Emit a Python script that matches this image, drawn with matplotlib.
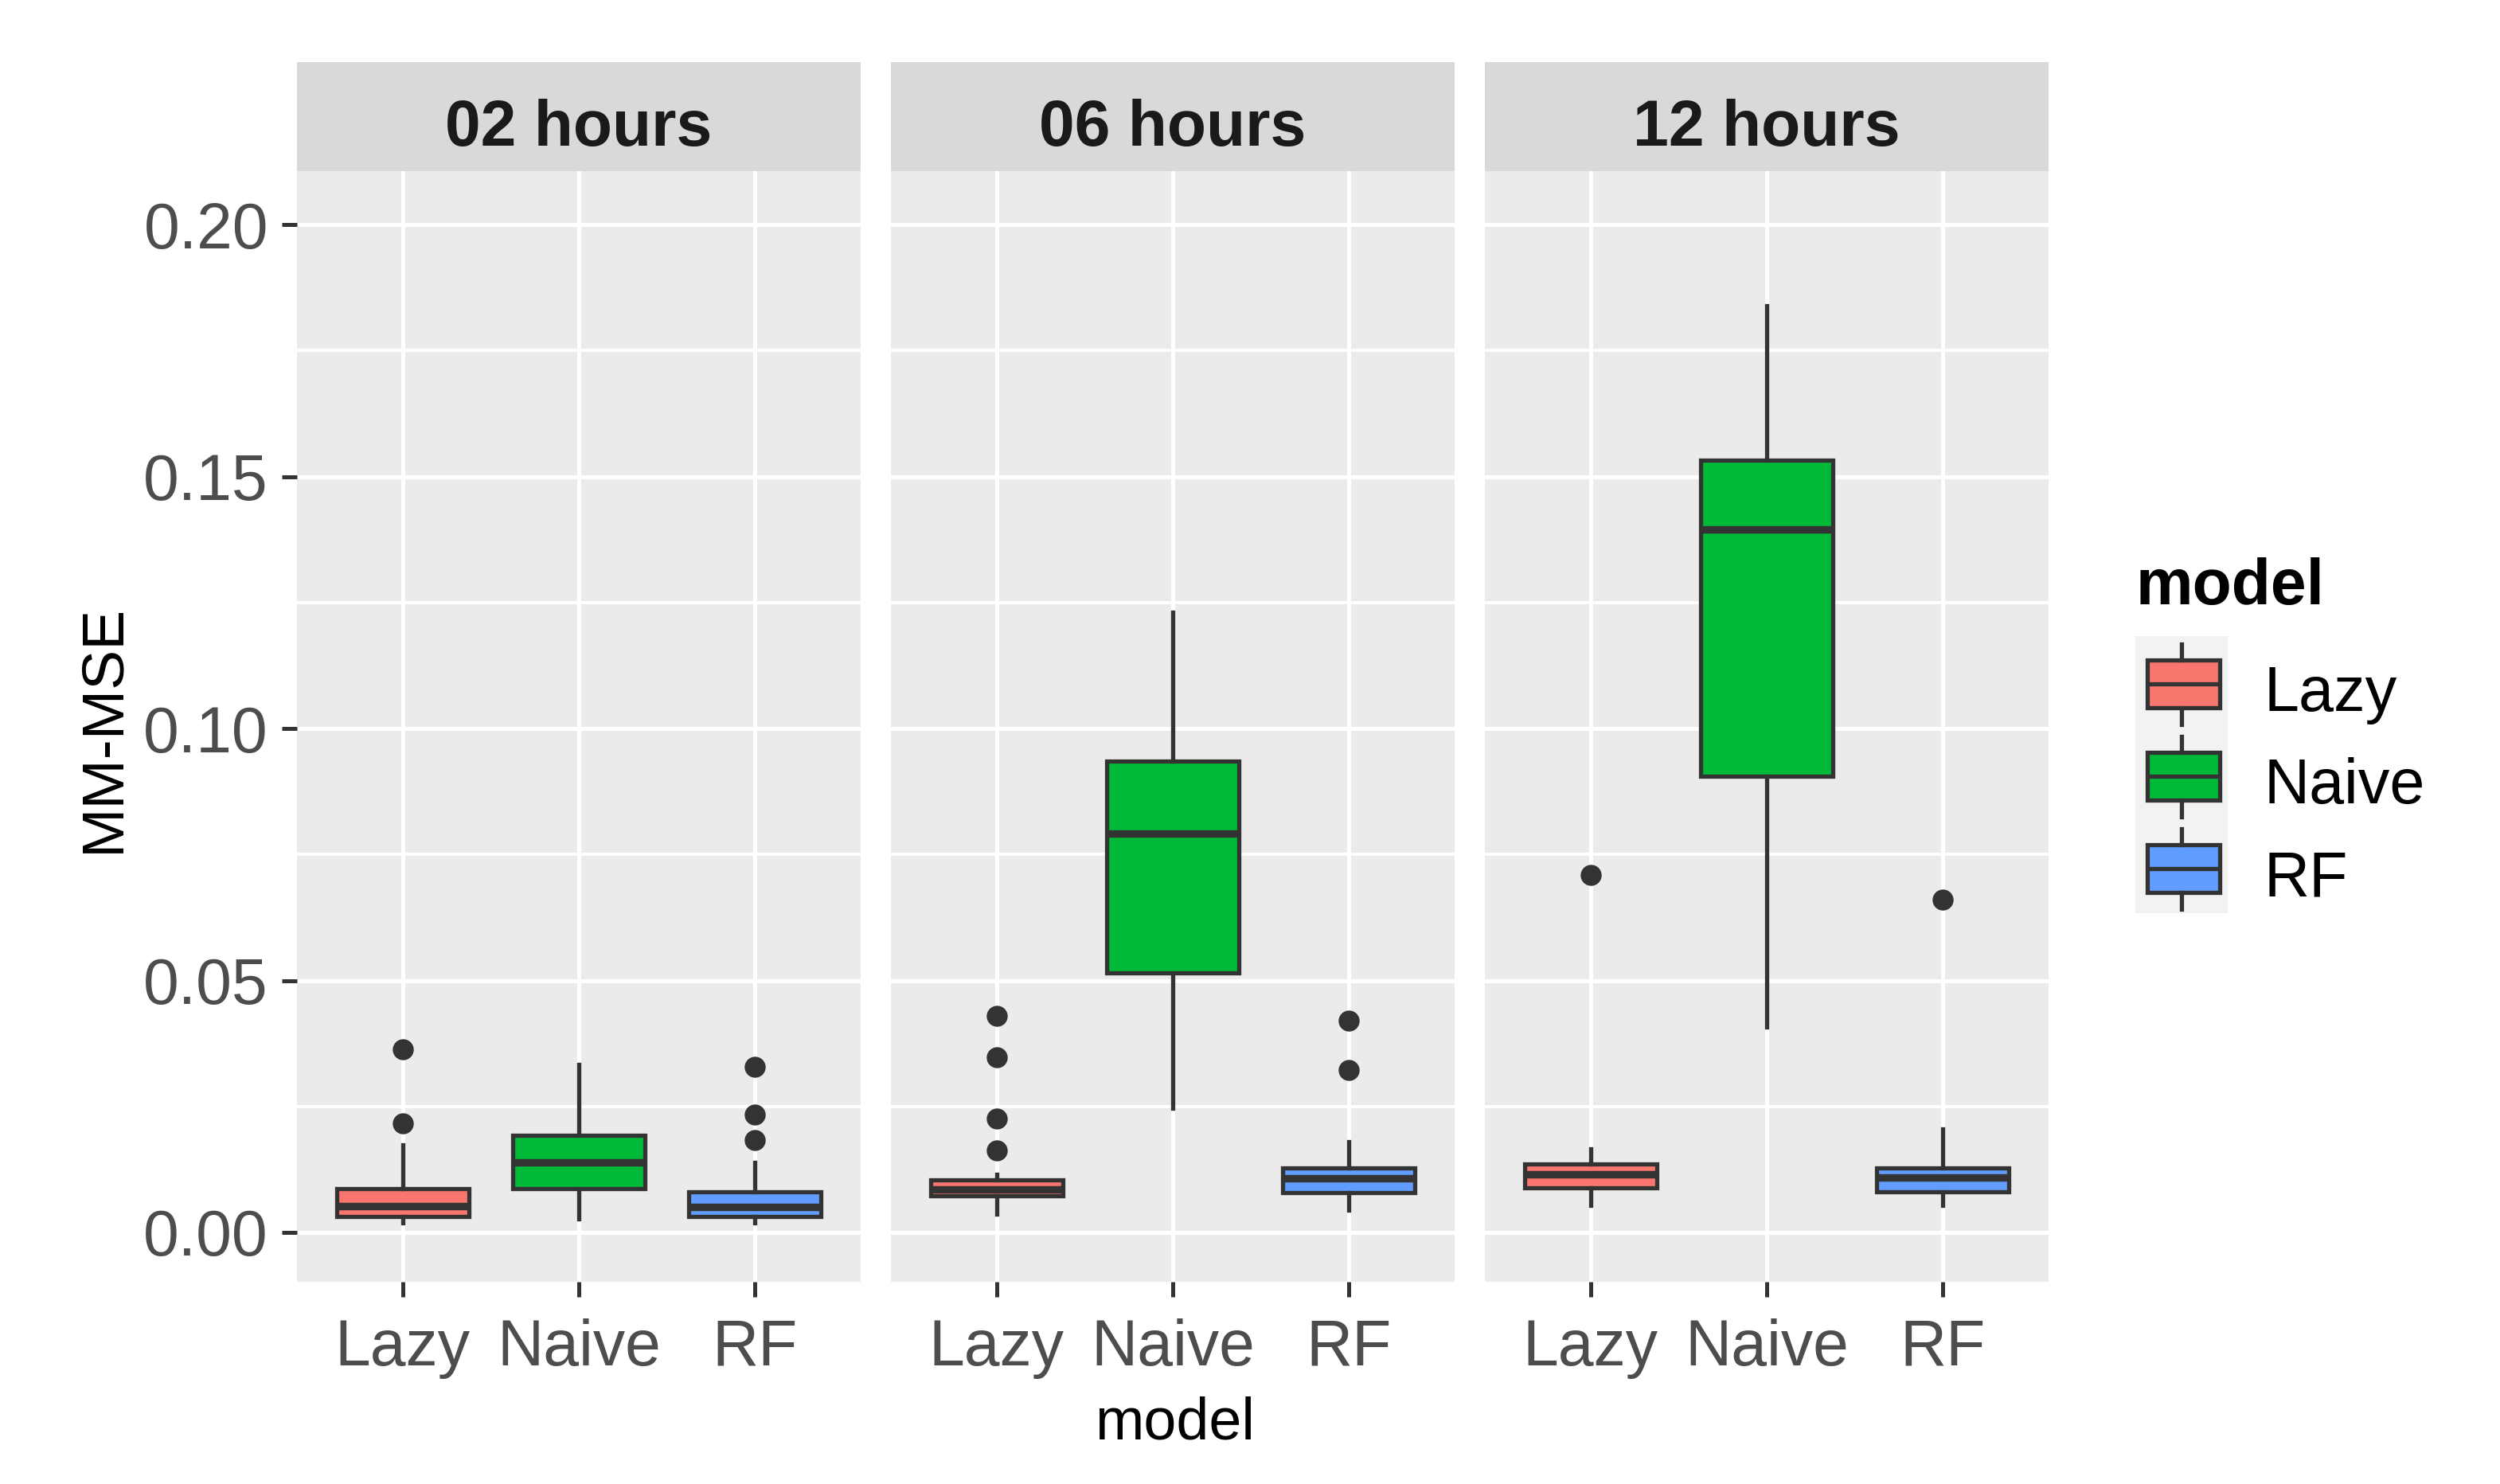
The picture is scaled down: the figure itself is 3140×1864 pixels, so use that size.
import numpy as np
import matplotlib
matplotlib.use('Agg')
import matplotlib.pyplot as plt
from matplotlib.patches import Rectangle

plt.rcParams['font.family'] = ['Liberation Sans', 'DejaVu Sans']

models = ['Lazy', 'Naive', 'RF']
horizons = ['02 hours', '06 hours', '12 hours']
colors = ['#F8766D', '#00BA38', '#619CFF']

# box stats per horizon (rows) and model (cols)
whislo = [[0.0019, 0.0027, 0.0019], [0.0036, 0.0247, 0.0044], [0.0053, 0.0408, 0.0053]]
q1 = [[0.0031, 0.0087, 0.0031], [0.0073, 0.0515, 0.0079], [0.0089, 0.0905, 0.0080]]
med = [[0.0052, 0.0139, 0.0051], [0.0085, 0.0791, 0.0108], [0.0116, 0.1395, 0.0109]]
q3 = [[0.0087, 0.0193, 0.0080], [0.0104, 0.0936, 0.0128], [0.0136, 0.1532, 0.0128]]
whishi = [[0.0173, 0.0333, 0.0139], [0.0116, 0.1230, 0.0180], [0.0166, 0.1839, 0.0206]]
fliers = [[[0.0217, 0.0363], [], [0.0184, 0.0233, 0.0329]],
          [[0.0162, 0.0226, 0.0348, 0.0429], [], [0.0322, 0.0421]],
          [[0.0710], [], [0.0661]]]

yticks = [0.00, 0.05, 0.10, 0.15, 0.20]
ytick_labels = ['0.00', '0.05', '0.10', '0.15', '0.20']
yminor = [0.025, 0.075, 0.125, 0.175]

W, H = 3140, 1864
DARK = '#333333'
fig = plt.figure(figsize=(W / 200, H / 200), dpi=200)
fig.patch.set_facecolor('white')

def rect(x0, y0, x1, y1):
    # pixel box (top-left origin) -> figure fraction
    return [x0 / W, 1 - y1 / H, (x1 - x0) / W, (y1 - y0) / H]

lefts = [373, 1119, 1865]
pw = 708
ptop, pbot = 215, 1610
stop = 78

for k, hz in enumerate(horizons):
    x0 = lefts[k]
    ax = fig.add_axes(rect(x0, ptop, x0 + pw, pbot))
    ax.set_facecolor('#EBEBEB')
    ax.set_axisbelow(True)
    stats = []
    for j in range(3):
        stats.append(dict(med=med[k][j], q1=q1[k][j], q3=q3[k][j],
                          whislo=whislo[k][j], whishi=whishi[k][j],
                          fliers=fliers[k][j]))
    bp = ax.bxp(stats, positions=[1, 2, 3], widths=0.75, patch_artist=True,
                showcaps=False,
                boxprops=dict(edgecolor=DARK, linewidth=1.9),
                medianprops=dict(color=DARK, linewidth=3.4, solid_capstyle='butt'),
                whiskerprops=dict(color=DARK, linewidth=1.9),
                flierprops=dict(marker='o', markerfacecolor=DARK,
                                markeredgecolor='none', markersize=9.5))
    for patch, c in zip(bp['boxes'], colors):
        patch.set_facecolor(c)
    ax.set_xlim(0.4, 3.6)
    ax.set_ylim(-0.0098, 0.2106)
    ax.set_xticks([1, 2, 3])
    ax.set_xticklabels(models)
    ax.set_yticks(yticks)
    ax.set_yticks(yminor, minor=True)
    ax.set_yticklabels(ytick_labels)
    ax.grid(which='major', color='white', linewidth=1.8)
    ax.grid(which='minor', axis='y', color='white', linewidth=1.4)
    for s in ax.spines.values():
        s.set_visible(False)
    ax.tick_params(which='major', length=7, width=1.8, color=DARK,
                   labelsize=29, labelcolor='#4D4D4D', pad=6)
    ax.tick_params(axis='x', pad=9.5)
    ax.tick_params(which='minor', length=0)
    if k > 0:
        ax.tick_params(axis='y', left=False, labelleft=False)

    # facet strip
    sa = fig.add_axes(rect(x0, stop, x0 + pw, ptop))
    sa.set_facecolor('#D9D9D9')
    sa.set_xticks([]); sa.set_yticks([])
    for s in sa.spines.values():
        s.set_visible(False)
    sa.text(0.5, 0.234, hz, transform=sa.transAxes, ha='center', va='baseline',
            fontsize=29, fontweight='bold', color='#1A1A1A')

# axis titles
fig.text(1475 / W, 1 - 1807 / H, 'model', ha='center', va='baseline', fontsize=26.5)
fig.text(130 / W, 1 - 915 / H, 'MM-MSE', ha='center', va='center', rotation=90, fontsize=27)

# legend
fig.text(2682 / W, 1 - 759 / H, 'model', ha='left', va='baseline',
         fontsize=29, fontweight='bold')
la = fig.add_axes(rect(2682, 799, 2798, 1147))
la.set_facecolor('#F2F2F2')
la.set_xlim(0, 116); la.set_ylim(348, 0)
la.set_xticks([]); la.set_yticks([])
for s in la.spines.values():
    s.set_visible(False)
for i, (m, c) in enumerate(zip(models, colors)):
    top = 116 * i
    la.plot([58, 58], [top + 10, top + 30], color=DARK, lw=1.9)
    la.plot([58, 58], [top + 90, top + 111], color=DARK, lw=1.9)
    la.add_patch(Rectangle((15, top + 30), 91, 60, facecolor=c, edgecolor=DARK, lw=1.9))
    la.plot([15, 106], [top + 60, top + 60], color=DARK, lw=1.9, solid_capstyle='butt')
    fig.text(2844 / W, 1 - (799 + top + 58 + 36) / H, m, ha='left', va='baseline',
             fontsize=28.5, color='black')

fig.savefig('out.png', dpi=200, facecolor='white')
